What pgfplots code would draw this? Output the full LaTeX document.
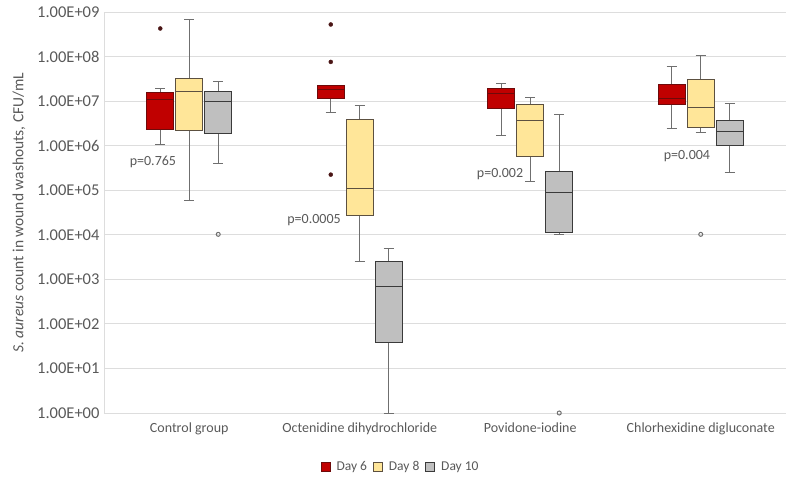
\documentclass[border=0pt]{standalone}
\usepackage{pgfplots}
\pgfplotsset{compat=1.18}
\usepgfplotslibrary{statistics}
\usepackage{fontspec}
\setmainfont{Carlito}
\definecolor{myred}{HTML}{C00000}
\definecolor{mydarkred}{HTML}{6E0A0A}
\definecolor{myyellow}{HTML}{FFE699}
\definecolor{myyellowdark}{HTML}{5C5040}
\definecolor{mygray}{HTML}{BFBFBF}
\definecolor{mygraydark}{HTML}{3A3A3A}
\definecolor{whisk}{HTML}{6F6F6F}
\definecolor{txt}{HTML}{595959}
\definecolor{gridc}{HTML}{DDDDDD}
\definecolor{outred}{HTML}{4A1515}
\pgfplotsset{
  dayA/.style={forget plot, mark=*, mark size=2pt, mark options={fill=outred, draw=outred},
    boxplot/draw direction=y,
    boxplot/box extend=0.158, boxplot/whisker extend=0.06,
    boxplot/every box/.style={fill=myred, draw=mydarkred, line width=0.8pt},
    boxplot/every whisker/.style={draw=whisk, line width=0.8pt},
    boxplot/every median/.style={draw=mydarkred, line width=0.8pt}},
  dayB/.style={forget plot, mark=o, mark size=2pt, mark options={draw=whisk, line width=1pt},
    boxplot/draw direction=y,
    boxplot/box extend=0.158, boxplot/whisker extend=0.06,
    boxplot/every box/.style={fill=myyellow, draw=myyellowdark, line width=0.8pt},
    boxplot/every whisker/.style={draw=whisk, line width=0.8pt},
    boxplot/every median/.style={draw=myyellowdark, line width=0.8pt}},
  dayC/.style={forget plot, mark=o, mark size=2pt, mark options={draw=whisk, line width=1pt},
    boxplot/draw direction=y,
    boxplot/box extend=0.158, boxplot/whisker extend=0.06,
    boxplot/every box/.style={fill=mygray, draw=mygraydark, line width=0.8pt},
    boxplot/every whisker/.style={draw=whisk, line width=0.8pt},
    boxplot/every median/.style={draw=mygraydark, line width=0.8pt}},
}
\begin{document}
\begin{tikzpicture}
\begin{axis}[
  scale only axis, width=682pt, height=401pt,
  xmin=-0.5, xmax=3.5, ymin=0, ymax=9,
  axis x line*=bottom, axis y line*=left,
  axis line style={draw=gridc, line width=0.8pt},
  ymajorgrids, grid style={draw=gridc, line width=0.8pt},
  major tick length=0pt,
  ytick={0,1,2,3,4,5,6,7,8,9},
  yticklabels={1.00E+00,1.00E+01,1.00E+02,1.00E+03,1.00E+04,1.00E+05,1.00E+06,1.00E+07,1.00E+08,1.00E+09},
  yticklabel style={font=\fontsize{16.5}{18}\selectfont, text=txt, xshift=-1pt},
  xtick={0,1,2,3},
  xticklabels={Control group, Octenidine dihydrochloride, Povidone-iodine, Chlorhexidine digluconate},
  xticklabel style={font=\fontsize{14}{16}\selectfont, text=txt, yshift=-6pt},
  ylabel={\textit{S. aureus} count in wound washouts, CFU/mL},
  every axis y label/.style={at={(-95pt,0.5)}, anchor=north, rotate=90,
    font=\fontsize{15.5}{18}\selectfont, text=txt},
  clip=false,
  legend columns=3,
  legend style={at={(0.435,-0.135)}, anchor=center, draw=none, fill=none,
    font=\fontsize{13.5}{15}\selectfont, text=txt, column sep=4pt},
  legend cell align=left,
]
% Control group
\addplot[dayA, boxplot prepared={draw position=-0.17, lower whisker=6.03, lower quartile=6.36, median=7.04, upper quartile=7.19, upper whisker=7.29}] coordinates {(0,8.63)};
\addplot[dayB, boxplot prepared={draw position=0, lower whisker=4.77, lower quartile=6.34, median=7.22, upper quartile=7.51, upper whisker=8.83}] coordinates {};
\addplot[dayC, boxplot prepared={draw position=0.17, lower whisker=5.61, lower quartile=6.27, median=7.00, upper quartile=7.21, upper whisker=7.44}] coordinates {(0,4.01)};
% Octenidine dihydrochloride
\addplot[dayA, boxplot prepared={draw position=0.83, lower whisker=6.74, lower quartile=7.065, median=7.26, upper quartile=7.35, upper whisker=7.35}] coordinates {(0,8.72) (0,7.88) (0,5.35)};
\addplot[dayB, boxplot prepared={draw position=1, lower whisker=3.41, lower quartile=4.43, median=5.04, upper quartile=6.59, upper whisker=6.90}] coordinates {};
\addplot[dayC, boxplot prepared={draw position=1.17, lower whisker=0.0, lower quartile=1.59, median=2.84, upper quartile=3.41, upper whisker=3.69}] coordinates {};
% Povidone-iodine
\addplot[dayA, boxplot prepared={draw position=1.83, lower whisker=6.24, lower quartile=6.84, median=7.18, upper quartile=7.29, upper whisker=7.39}] coordinates {};
\addplot[dayB, boxplot prepared={draw position=2, lower whisker=5.20, lower quartile=5.75, median=6.57, upper quartile=6.92, upper whisker=7.09}] coordinates {};
\addplot[dayC, boxplot prepared={draw position=2.17, lower whisker=4.01, lower quartile=4.06, median=4.95, upper quartile=5.42, upper whisker=6.70}] coordinates {(0,0.0)};
% Chlorhexidine digluconate
\addplot[dayA, boxplot prepared={draw position=2.83, lower whisker=6.38, lower quartile=6.92, median=7.07, upper quartile=7.37, upper whisker=7.78}] coordinates {};
\addplot[dayB, boxplot prepared={draw position=3, lower whisker=6.30, lower quartile=6.40, median=6.86, upper quartile=7.49, upper whisker=8.02}] coordinates {(0,4.01)};
\addplot[dayC, boxplot prepared={draw position=3.17, lower whisker=5.41, lower quartile=6.00, median=6.32, upper quartile=6.56, upper whisker=6.95}] coordinates {};
% p-values
\node[font=\fontsize{14}{16}\selectfont, text=txt] at (axis cs:-0.213,5.63) {p=0.765};
\node[font=\fontsize{14}{16}\selectfont, text=txt] at (axis cs:0.732,4.33) {p=0.0005};
\node[font=\fontsize{14}{16}\selectfont, text=txt] at (axis cs:1.823,5.36) {p=0.002};
\node[font=\fontsize{14}{16}\selectfont, text=txt] at (axis cs:2.919,5.77) {p=0.004};
% legend
\addlegendimage{legend image code/.code={\draw[fill=myred, draw=mydarkred, line width=0.8pt] (0pt,-4.5pt) rectangle (9pt,4.5pt);}}
\addlegendentry{Day 6}
\addlegendimage{legend image code/.code={\draw[fill=myyellow, draw=myyellowdark, line width=0.8pt] (0pt,-4.5pt) rectangle (9pt,4.5pt);}}
\addlegendentry{Day 8}
\addlegendimage{legend image code/.code={\draw[fill=mygray, draw=mygraydark, line width=0.8pt] (0pt,-4.5pt) rectangle (9pt,4.5pt);}}
\addlegendentry{Day 10}
\end{axis}
\path[use as bounding box] (-104pt,-65pt) rectangle (683pt,413pt);
\end{tikzpicture}
\end{document}
